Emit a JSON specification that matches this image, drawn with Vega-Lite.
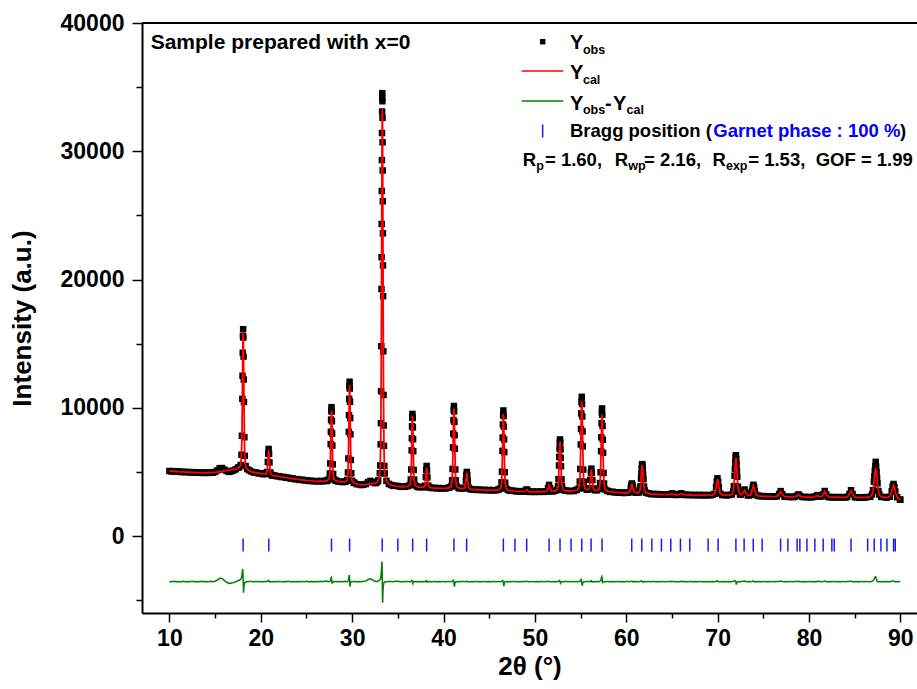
{
"$schema":"https://vega.github.io/schema/vega-lite/v6.json",
"width":775,"height":590,
"autosize":{"type":"none"},
"padding":{"left":142,"top":23,"right":0,"bottom":76},
"background":"white",
"resolve":{"axis":{"x":"independent","y":"independent"}},
"config":{"view":{"stroke":null},"font":"Liberation Sans",
"axis":{"domainColor":"black","domainWidth":2,"tickColor":"black","tickWidth":1.5,"labelColor":"black","labelFont":"Liberation Sans","labelFontWeight":"bold","labelFontSize":23,"titleFont":"Liberation Sans","titleFontWeight":"bold","titleFontSize":26,"titleColor":"black","grid":false},
"axisX":{"labelPadding":5,"titlePadding":3},
"axisY":{"labelPadding":8,"titlePadding":25}},
"datasets":{
"bragg":[{"t":18.07},{"t":20.88},{"t":27.74},{"t":29.72},{"t":33.29},{"t":35.0},{"t":36.62},{"t":38.15},{"t":41.14},{"t":42.53},{"t":46.55},{"t":47.82},{"t":49.1},{"t":51.55},{"t":52.75},{"t":53.96},{"t":55.13},{"t":56.15},{"t":57.35},{"t":60.6},{"t":61.7},{"t":62.8},{"t":63.85},{"t":64.87},{"t":65.93},{"t":66.95},{"t":68.96},{"t":70.05},{"t":72.0},{"t":72.9},{"t":73.9},{"t":74.87},{"t":76.89},{"t":77.69},{"t":78.7},{"t":79.0},{"t":79.77},{"t":80.64},{"t":81.55},{"t":82.5},{"t":82.76},{"t":84.6},{"t":86.42},{"t":87.14},{"t":87.87},{"t":88.53},{"t":89.26},{"t":89.44}],
"prof":[
{"t":10,"c":5060,"o":5075,"d":-3540},{"t":10.25,"c":5050,"o":5030,"d":-3565},{"t":10.5,"c":5040,"o":5060,"d":-3530},{"t":10.75,"c":5030,"o":5010,"d":-3570},{"t":11,"c":5020,"o":5045,"d":-3545},{"t":11.25,"c":5010,"o":4985,"d":-3575},{"t":11.5,"c":5000,"o":5020,"d":-3535},{"t":11.75,"c":4990,"o":4975,"d":-3560},{"t":12,"c":4980,"o":5000,"d":-3540},{"t":12.25,"c":4972,"o":4950,"d":-3570},{"t":12.5,"c":4965,"o":4990,"d":-3530},{"t":12.75,"c":4958,"o":4940,"d":-3565},{"t":13,"c":4950,"o":4970,"d":-3545},{"t":13.25,"c":4945,"o":4930,"d":-3560},{"t":13.5,"c":4940,"o":4965,"d":-3535},{"t":13.75,"c":4935,"o":4915,"d":-3570},{"t":14,"c":4930,"o":4950,"d":-3540},{"t":14.25,"c":4938,"o":4920,"d":-3565},{"t":14.5,"c":4945,"o":4970,"d":-3530},{"t":14.75,"c":4952,"o":4945,"d":-3555},{"t":15,"c":4960,"o":5000,"d":-3520},{"t":15.25,"c":4990,"o":5120,"d":-3430},{"t":15.5,"c":5020,"o":5290,"d":-3290},{"t":15.75,"c":5050,"o":5300,"d":-3310},{"t":16,"c":5080,"o":5180,"d":-3450},{"t":16.25,"c":5110,"o":5080,"d":-3590},{"t":16.5,"c":5140,"o":5000,"d":-3690},{"t":16.75,"c":5170,"o":5040,"d":-3680},{"t":17,"c":5200,"o":5110,"d":-3630},{"t":17.25,"c":5210,"o":5200,"d":-3560},{"t":17.5,"c":5300,"o":5330,"d":-3480},
{"t":17.62,"c":5340,"o":5350,"d":-3450},{"t":17.8,"c":5520,"o":5540,"d":-3380},{"t":17.89,"c":6300,"o":6340,"d":-3250},{"t":17.935,"c":7750,"o":7820,"d":-3050},{"t":17.98,"c":10560,"o":10700,"d":-2800},{"t":18.003,"c":12340,"o":12500,"d":-2650},{"t":18.025,"c":14100,"o":14290,"d":-2570},{"t":18.048,"c":15430,"o":15600,"d":-2900},{"t":18.07,"c":15930,"o":16130,"d":-3400},{"t":18.093,"c":15420,"o":15480,"d":-3900},{"t":18.115,"c":14080,"o":13990,"d":-4420},{"t":18.138,"c":12310,"o":12200,"d":-4200},{"t":18.16,"c":10520,"o":10450,"d":-3900},{"t":18.205,"c":7700,"o":7700,"d":-3700},{"t":18.25,"c":6240,"o":6250,"d":-3620},{"t":18.34,"c":5445,"o":5460,"d":-3580},{"t":18.52,"c":5200,"o":5215,"d":-3560},
{"t":18.75,"c":5100,"o":5120,"d":-3540},{"t":19,"c":5000,"o":5020,"d":-3545},{"t":19.25,"c":4968,"o":4950,"d":-3565},{"t":19.5,"c":4935,"o":4960,"d":-3535},{"t":19.75,"c":4902,"o":4885,"d":-3560},{"t":20,"c":4870,"o":4895,"d":-3540},{"t":20.25,"c":4843,"o":4825,"d":-3565},{"t":20.5,"c":4815,"o":4835,"d":-3540},
{"t":20.545,"c":4850,"o":4860,"d":-3545},{"t":20.68,"c":4985,"o":4995,"d":-3550},{"t":20.77,"c":5735,"o":5780,"d":-3500},{"t":20.815,"c":6365,"o":6420,"d":-3480},{"t":20.86,"c":6695,"o":6790,"d":-3460},{"t":20.905,"c":6360,"o":6400,"d":-3520},{"t":20.95,"c":5725,"o":5740,"d":-3580},{"t":21.04,"c":4955,"o":4960,"d":-3560},{"t":21.175,"c":4785,"o":4770,"d":-3565},
{"t":21.25,"c":4733,"o":4715,"d":-3565},{"t":21.5,"c":4705,"o":4725,"d":-3540},{"t":21.75,"c":4678,"o":4660,"d":-3560},{"t":22,"c":4650,"o":4670,"d":-3535},{"t":22.25,"c":4620,"o":4600,"d":-3565},{"t":22.5,"c":4590,"o":4610,"d":-3540},{"t":22.75,"c":4560,"o":4545,"d":-3560},{"t":23,"c":4530,"o":4555,"d":-3530},{"t":23.25,"c":4502,"o":4480,"d":-3570},{"t":23.5,"c":4475,"o":4495,"d":-3540},{"t":23.75,"c":4448,"o":4430,"d":-3560},{"t":24,"c":4420,"o":4440,"d":-3540},{"t":24.25,"c":4398,"o":4375,"d":-3570},{"t":24.5,"c":4375,"o":4395,"d":-3535},{"t":24.75,"c":4352,"o":4340,"d":-3555},{"t":25,"c":4330,"o":4355,"d":-3530},{"t":25.25,"c":4315,"o":4295,"d":-3570},{"t":25.5,"c":4300,"o":4320,"d":-3540},{"t":25.75,"c":4285,"o":4270,"d":-3560},{"t":26,"c":4270,"o":4290,"d":-3540},{"t":26.25,"c":4272,"o":4255,"d":-3565},{"t":26.5,"c":4275,"o":4300,"d":-3530},{"t":26.75,"c":4278,"o":4260,"d":-3560},{"t":27,"c":4280,"o":4305,"d":-3520},{"t":27.25,"c":4285,"o":4290,"d":-3510},
{"t":27.29,"c":4348,"o":4360,"d":-3540},{"t":27.47,"c":4451,"o":4440,"d":-3560},{"t":27.56,"c":4852,"o":4880,"d":-3520},{"t":27.605,"c":5595,"o":5660,"d":-3480},{"t":27.65,"c":7030,"o":7170,"d":-3400},{"t":27.673,"c":7943,"o":8130,"d":-3350},{"t":27.695,"c":8840,"o":9080,"d":-3250},{"t":27.718,"c":9522,"o":9800,"d":-3220},{"t":27.74,"c":9770,"o":10050,"d":-3300},{"t":27.763,"c":9500,"o":9700,"d":-3500},{"t":27.785,"c":8820,"o":8950,"d":-3640},{"t":27.808,"c":7920,"o":7990,"d":-3700},{"t":27.83,"c":7005,"o":7050,"d":-3620},{"t":27.875,"c":5575,"o":5590,"d":-3580},{"t":27.92,"c":4832,"o":4840,"d":-3555},{"t":28.01,"c":4430,"o":4420,"d":-3565},{"t":28.19,"c":4315,"o":4330,"d":-3545},
{"t":28.25,"c":4300,"o":4315,"d":-3545},{"t":28.5,"c":4255,"o":4240,"d":-3565},{"t":28.75,"c":4233,"o":4250,"d":-3540},{"t":29,"c":4223,"o":4205,"d":-3560},{"t":29.25,"c":4238,"o":4255,"d":-3530},
{"t":29.27,"c":4241,"o":4260,"d":-3540},{"t":29.45,"c":4372,"o":4370,"d":-3560},{"t":29.54,"c":4922,"o":4960,"d":-3520},{"t":29.585,"c":5950,"o":6050,"d":-3470},{"t":29.63,"c":7942,"o":8120,"d":-3300},{"t":29.653,"c":9210,"o":9430,"d":-3150},{"t":29.675,"c":10455,"o":10700,"d":-3050},{"t":29.698,"c":11400,"o":11680,"d":-3100},{"t":29.72,"c":11758,"o":12030,"d":-3350},{"t":29.743,"c":11396,"o":11500,"d":-3700},{"t":29.765,"c":10446,"o":10470,"d":-3950},{"t":29.788,"c":9196,"o":9200,"d":-3800},{"t":29.81,"c":7924,"o":7930,"d":-3650},{"t":29.855,"c":5923,"o":5930,"d":-3580},{"t":29.9,"c":4886,"o":4895,"d":-3555},{"t":29.99,"c":4318,"o":4310,"d":-3565},{"t":30.17,"c":4153,"o":4165,"d":-3540},
{"t":30.25,"c":4122,"o":4140,"d":-3545},{"t":30.5,"c":4065,"o":4045,"d":-3565},{"t":30.75,"c":4012,"o":4030,"d":-3540},{"t":31,"c":3990,"o":3975,"d":-3560},{"t":31.25,"c":3992,"o":4010,"d":-3530},{"t":31.5,"c":4020,"o":4060,"d":-3510},{"t":31.75,"c":4040,"o":4200,"d":-3390},{"t":32,"c":4080,"o":4300,"d":-3330},{"t":32.25,"c":4090,"o":4210,"d":-3430},{"t":32.5,"c":4110,"o":4135,"d":-3525},
{"t":32.58,"c":4125,"o":4140,"d":-3530},{"t":32.75,"c":4220,"o":4210,"d":-3560},{"t":32.85,"c":4328,"o":4340,"d":-3500},{"t":33.03,"c":4880,"o":4900,"d":-3420},{"t":33.075,"c":5455,"o":5500,"d":-3380},{"t":33.12,"c":7022,"o":7150,"d":-3300},{"t":33.143,"c":8607,"o":8800,"d":-3200},{"t":33.165,"c":10985,"o":11290,"d":-3050},{"t":33.188,"c":14360,"o":14800,"d":-2850},{"t":33.21,"c":18645,"o":19260,"d":-2600},{"t":33.221,"c":21022,"o":21740,"d":-2450},{"t":33.233,"c":23517,"o":24330,"d":-2300},{"t":33.244,"c":25983,"o":26900,"d":-2150},{"t":33.255,"c":28301,"o":29310,"d":-2050},{"t":33.266,"c":30326,"o":31420,"d":-2000},{"t":33.278,"c":31941,"o":33100,"d":-2300},{"t":33.289,"c":32968,"o":34170,"d":-2900},{"t":33.3,"c":33320,"o":34530,"d":-3500},{"t":33.311,"c":32958,"o":33900,"d":-4200},{"t":33.323,"c":31931,"o":32600,"d":-4800},{"t":33.334,"c":30316,"o":30700,"d":-5200},{"t":33.345,"c":28291,"o":28500,"d":-5000},{"t":33.356,"c":25973,"o":26100,"d":-4700},{"t":33.368,"c":23507,"o":23600,"d":-4450},{"t":33.379,"c":21012,"o":21100,"d":-4250},{"t":33.39,"c":18635,"o":18700,"d":-4100},{"t":33.413,"c":14350,"o":14400,"d":-3900},{"t":33.435,"c":10975,"o":11000,"d":-3780},{"t":33.458,"c":8597,"o":8620,"d":-3700},{"t":33.48,"c":7012,"o":7030,"d":-3650},{"t":33.525,"c":5445,"o":5460,"d":-3600},{"t":33.57,"c":4870,"o":4880,"d":-3580},{"t":33.75,"c":4288,"o":4300,"d":-3560},{"t":34.02,"c":4050,"o":4065,"d":-3550},
{"t":34.25,"c":3965,"o":3980,"d":-3540},{"t":34.5,"c":3930,"o":3915,"d":-3560},{"t":34.75,"c":3900,"o":3920,"d":-3530},{"t":35,"c":3875,"o":3900,"d":-3520},{"t":35.25,"c":3852,"o":3835,"d":-3565},{"t":35.5,"c":3845,"o":3865,"d":-3540},{"t":35.75,"c":3856,"o":3840,"d":-3560},{"t":36,"c":3867,"o":3885,"d":-3535},
{"t":36.15,"c":3890,"o":3905,"d":-3545},{"t":36.33,"c":3995,"o":3985,"d":-3560},{"t":36.42,"c":4398,"o":4410,"d":-3540},{"t":36.465,"c":5147,"o":5190,"d":-3510},{"t":36.51,"c":6596,"o":6680,"d":-3470},{"t":36.533,"c":7517,"o":7630,"d":-3450},{"t":36.555,"c":8422,"o":8560,"d":-3480},{"t":36.578,"c":9110,"o":9260,"d":-3500},{"t":36.6,"c":9370,"o":9520,"d":-3540},{"t":36.623,"c":9108,"o":9200,"d":-3620},{"t":36.645,"c":8419,"o":8470,"d":-3680},{"t":36.668,"c":7514,"o":7540,"d":-3620},{"t":36.69,"c":6593,"o":6610,"d":-3580},{"t":36.735,"c":5144,"o":5150,"d":-3560},{"t":36.78,"c":4395,"o":4400,"d":-3550},{"t":36.87,"c":3990,"o":3980,"d":-3560},{"t":37.05,"c":3866,"o":3880,"d":-3545},
{"t":37.25,"c":3823,"o":3805,"d":-3565},{"t":37.5,"c":3811,"o":3830,"d":-3540},{"t":37.75,"c":3815,"o":3800,"d":-3560},
{"t":37.835,"c":3821,"o":3830,"d":-3540},{"t":37.97,"c":3935,"o":3925,"d":-3560},{"t":38.06,"c":4565,"o":4600,"d":-3520},{"t":38.105,"c":5091,"o":5160,"d":-3500},{"t":38.15,"c":5365,"o":5465,"d":-3480},{"t":38.195,"c":5091,"o":5120,"d":-3590},{"t":38.24,"c":4565,"o":4570,"d":-3580},{"t":38.33,"c":3929,"o":3935,"d":-3555},{"t":38.465,"c":3797,"o":3790,"d":-3560},
{"t":38.5,"c":3784,"o":3800,"d":-3540},{"t":38.75,"c":3759,"o":3740,"d":-3565},{"t":39,"c":3740,"o":3760,"d":-3535},{"t":39.25,"c":3732,"o":3715,"d":-3560},{"t":39.5,"c":3725,"o":3745,"d":-3540},{"t":39.75,"c":3718,"o":3700,"d":-3565},{"t":40,"c":3710,"o":3730,"d":-3535},{"t":40.25,"c":3727,"o":3712,"d":-3560},{"t":40.5,"c":3743,"o":3760,"d":-3540},
{"t":40.64,"c":3767,"o":3780,"d":-3545},{"t":40.84,"c":3887,"o":3875,"d":-3560},{"t":40.94,"c":4344,"o":4360,"d":-3530},{"t":40.99,"c":5188,"o":5230,"d":-3500},{"t":41.04,"c":6815,"o":6910,"d":-3480},{"t":41.065,"c":7853,"o":7990,"d":-3450},{"t":41.09,"c":8871,"o":9040,"d":-3480},{"t":41.115,"c":9646,"o":9840,"d":-3520},{"t":41.14,"c":9940,"o":10140,"d":-3600},{"t":41.165,"c":9646,"o":9720,"d":-3780},{"t":41.19,"c":8871,"o":8900,"d":-3950},{"t":41.215,"c":7853,"o":7850,"d":-3850},{"t":41.24,"c":6815,"o":6800,"d":-3700},{"t":41.29,"c":5184,"o":5190,"d":-3600},{"t":41.34,"c":4340,"o":4345,"d":-3565},{"t":41.44,"c":3884,"o":3875,"d":-3560},{"t":41.64,"c":3752,"o":3765,"d":-3545},
{"t":41.75,"c":3735,"o":3715,"d":-3565},{"t":42,"c":3697,"o":3715,"d":-3540},
{"t":42.2,"c":3700,"o":3710,"d":-3545},{"t":42.35,"c":3787,"o":3780,"d":-3560},{"t":42.45,"c":4302,"o":4320,"d":-3535},{"t":42.5,"c":4729,"o":4770,"d":-3520},{"t":42.55,"c":4950,"o":5000,"d":-3510},{"t":42.6,"c":4726,"o":4740,"d":-3570},{"t":42.65,"c":4298,"o":4300,"d":-3565},{"t":42.75,"c":3780,"o":3785,"d":-3555},{"t":42.9,"c":3670,"o":3660,"d":-3560},
{"t":43,"c":3648,"o":3660,"d":-3545},{"t":43.25,"c":3622,"o":3605,"d":-3565},{"t":43.5,"c":3615,"o":3635,"d":-3535},{"t":43.75,"c":3608,"o":3590,"d":-3560},{"t":44,"c":3600,"o":3620,"d":-3540},{"t":44.25,"c":3594,"o":3575,"d":-3565},{"t":44.5,"c":3588,"o":3605,"d":-3535},{"t":44.75,"c":3581,"o":3565,"d":-3560},{"t":45,"c":3575,"o":3595,"d":-3540},{"t":45.25,"c":3569,"o":3550,"d":-3565},{"t":45.5,"c":3563,"o":3580,"d":-3535},{"t":45.75,"c":3584,"o":3568,"d":-3560},{"t":46,"c":3608,"o":3625,"d":-3540},
{"t":46.05,"c":3618,"o":3630,"d":-3545},{"t":46.25,"c":3730,"o":3720,"d":-3560},{"t":46.35,"c":4168,"o":4185,"d":-3535},{"t":46.4,"c":4978,"o":5020,"d":-3510},{"t":46.45,"c":6540,"o":6640,"d":-3490},{"t":46.475,"c":7536,"o":7680,"d":-3470},{"t":46.5,"c":8514,"o":8700,"d":-3500},{"t":46.525,"c":9258,"o":9470,"d":-3560},{"t":46.55,"c":9540,"o":9790,"d":-3620},{"t":46.575,"c":9256,"o":9350,"d":-3800},{"t":46.6,"c":8510,"o":8530,"d":-3900},{"t":46.625,"c":7532,"o":7530,"d":-3800},{"t":46.65,"c":6536,"o":6540,"d":-3680},{"t":46.7,"c":4970,"o":4975,"d":-3600},{"t":46.75,"c":4160,"o":4165,"d":-3565},{"t":46.85,"c":3716,"o":3705,"d":-3560},{"t":47.05,"c":3592,"o":3605,"d":-3545},
{"t":47.25,"c":3548,"o":3530,"d":-3565},{"t":47.5,"c":3525,"o":3545,"d":-3540},{"t":47.75,"c":3500,"o":3515,"d":-3545},{"t":48,"c":3490,"o":3475,"d":-3560},{"t":48.25,"c":3485,"o":3505,"d":-3535},{"t":48.5,"c":3480,"o":3465,"d":-3560},{"t":48.75,"c":3470,"o":3490,"d":-3540},
{"t":48.85,"c":3474,"o":3485,"d":-3540},{"t":49,"c":3540,"o":3555,"d":-3545},{"t":49.1,"c":3612,"o":3635,"d":-3530},{"t":49.2,"c":3535,"o":3545,"d":-3550},{"t":49.35,"c":3463,"o":3455,"d":-3560},
{"t":49.5,"c":3455,"o":3440,"d":-3565},{"t":49.75,"c":3452,"o":3470,"d":-3535},{"t":50,"c":3450,"o":3435,"d":-3560},{"t":50.25,"c":3452,"o":3470,"d":-3540},{"t":50.5,"c":3455,"o":3440,"d":-3565},{"t":50.75,"c":3458,"o":3475,"d":-3535},{"t":51,"c":3460,"o":3445,"d":-3560},{"t":51.25,"c":3462,"o":3480,"d":-3540},
{"t":51.275,"c":3490,"o":3500,"d":-3545},{"t":51.44,"c":3715,"o":3730,"d":-3540},{"t":51.55,"c":3965,"o":3990,"d":-3530},{"t":51.66,"c":3716,"o":3725,"d":-3555},{"t":51.825,"c":3492,"o":3485,"d":-3560},
{"t":52,"c":3504,"o":3490,"d":-3560},
{"t":52.2,"c":3520,"o":3530,"d":-3545},{"t":52.42,"c":3596,"o":3590,"d":-3560},{"t":52.53,"c":3884,"o":3895,"d":-3540},{"t":52.585,"c":4410,"o":4440,"d":-3520},{"t":52.64,"c":5428,"o":5500,"d":-3500},{"t":52.668,"c":6075,"o":6175,"d":-3480},{"t":52.695,"c":6711,"o":6835,"d":-3470},{"t":52.723,"c":7195,"o":7335,"d":-3500},{"t":52.75,"c":7380,"o":7530,"d":-3540},{"t":52.778,"c":7198,"o":7300,"d":-3620},{"t":52.805,"c":6714,"o":6750,"d":-3680},{"t":52.833,"c":6078,"o":6090,"d":-3640},{"t":52.86,"c":5432,"o":5440,"d":-3590},{"t":52.915,"c":4416,"o":4420,"d":-3565},{"t":52.97,"c":3892,"o":3900,"d":-3550},{"t":53.08,"c":3610,"o":3600,"d":-3560},{"t":53.3,"c":3535,"o":3545,"d":-3545},
{"t":53.5,"c":3517,"o":3535,"d":-3540},{"t":53.75,"c":3510,"o":3495,"d":-3560},{"t":54,"c":3500,"o":3520,"d":-3535},{"t":54.25,"c":3534,"o":3515,"d":-3565},{"t":54.5,"c":3566,"o":3585,"d":-3540},
{"t":54.58,"c":3586,"o":3600,"d":-3540},{"t":54.8,"c":3722,"o":3710,"d":-3560},{"t":54.91,"c":4233,"o":4250,"d":-3530},{"t":54.965,"c":5178,"o":5230,"d":-3480},{"t":55.02,"c":7005,"o":7140,"d":-3420},{"t":55.048,"c":8167,"o":8350,"d":-3380},{"t":55.075,"c":9308,"o":9560,"d":-3420},{"t":55.103,"c":10176,"o":10470,"d":-3520},{"t":55.13,"c":10505,"o":10855,"d":-3600},{"t":55.158,"c":10176,"o":10290,"d":-3800},{"t":55.185,"c":9308,"o":9320,"d":-3870},{"t":55.213,"c":8167,"o":8150,"d":-3760},{"t":55.24,"c":7005,"o":6990,"d":-3650},{"t":55.295,"c":5178,"o":5180,"d":-3590},{"t":55.35,"c":4233,"o":4240,"d":-3560},{"t":55.46,"c":3722,"o":3715,"d":-3560},{"t":55.68,"c":3610,"o":3620,"d":-3545},
{"t":55.795,"c":3605,"o":3615,"d":-3545},{"t":55.96,"c":3719,"o":3725,"d":-3555},{"t":56.07,"c":4350,"o":4385,"d":-3530},{"t":56.125,"c":4893,"o":4960,"d":-3500},{"t":56.18,"c":5175,"o":5255,"d":-3490},{"t":56.235,"c":4895,"o":4930,"d":-3570},{"t":56.29,"c":4352,"o":4360,"d":-3565},{"t":56.4,"c":3706,"o":3715,"d":-3550},{"t":56.565,"c":3583,"o":3575,"d":-3560},
{"t":56.8,"c":3560,"o":3570,"d":-3545},{"t":57.02,"c":3676,"o":3670,"d":-3555},{"t":57.13,"c":4114,"o":4130,"d":-3520},{"t":57.185,"c":4925,"o":4970,"d":-3480},{"t":57.24,"c":6488,"o":6620,"d":-3400},{"t":57.268,"c":7484,"o":7700,"d":-3300},{"t":57.295,"c":8462,"o":8800,"d":-3220},{"t":57.323,"c":9198,"o":9620,"d":-3170},{"t":57.35,"c":9480,"o":9950,"d":-3250},{"t":57.378,"c":9198,"o":9450,"d":-3450},{"t":57.405,"c":8462,"o":8580,"d":-3580},{"t":57.433,"c":7484,"o":7510,"d":-3620},{"t":57.46,"c":6488,"o":6490,"d":-3590},{"t":57.515,"c":4910,"o":4915,"d":-3565},{"t":57.57,"c":4090,"o":4100,"d":-3555},{"t":57.68,"c":3650,"o":3640,"d":-3560},{"t":57.9,"c":3520,"o":3535,"d":-3545},
{"t":58,"c":3491,"o":3505,"d":-3545},{"t":58.25,"c":3457,"o":3440,"d":-3565},{"t":58.5,"c":3436,"o":3455,"d":-3540},{"t":58.75,"c":3410,"o":3395,"d":-3560},{"t":59,"c":3400,"o":3420,"d":-3535},{"t":59.25,"c":3390,"o":3375,"d":-3565},{"t":59.5,"c":3380,"o":3400,"d":-3540},{"t":59.75,"c":3370,"o":3355,"d":-3560},{"t":60,"c":3370,"o":3390,"d":-3540},
{"t":60.165,"c":3372,"o":3385,"d":-3545},{"t":60.36,"c":3425,"o":3415,"d":-3560},{"t":60.49,"c":3702,"o":3720,"d":-3535},{"t":60.555,"c":3932,"o":3970,"d":-3520},{"t":60.62,"c":4050,"o":4100,"d":-3510},{"t":60.685,"c":3930,"o":3950,"d":-3560},{"t":60.75,"c":3700,"o":3705,"d":-3565},{"t":60.88,"c":3433,"o":3440,"d":-3550},{"t":61.075,"c":3385,"o":3380,"d":-3555},
{"t":61.1,"c":3375,"o":3385,"d":-3545},{"t":61.36,"c":3405,"o":3395,"d":-3560},{"t":61.49,"c":3565,"o":3575,"d":-3540},{"t":61.555,"c":3860,"o":3880,"d":-3520},{"t":61.62,"c":4430,"o":4475,"d":-3500},{"t":61.653,"c":4795,"o":4850,"d":-3490},{"t":61.685,"c":5154,"o":5220,"d":-3500},{"t":61.718,"c":5427,"o":5505,"d":-3520},{"t":61.75,"c":5530,"o":5610,"d":-3540},{"t":61.783,"c":5427,"o":5470,"d":-3590},{"t":61.815,"c":5154,"o":5170,"d":-3600},{"t":61.848,"c":4795,"o":4800,"d":-3580},{"t":61.88,"c":4430,"o":4430,"d":-3565},{"t":61.945,"c":3850,"o":3855,"d":-3555},{"t":62.01,"c":3555,"o":3560,"d":-3550},{"t":62.14,"c":3395,"o":3385,"d":-3560},{"t":62.4,"c":3320,"o":3335,"d":-3545},
{"t":62.5,"c":3309,"o":3325,"d":-3545},{"t":62.75,"c":3278,"o":3260,"d":-3565},{"t":63,"c":3270,"o":3290,"d":-3535},{"t":63.25,"c":3262,"o":3245,"d":-3560},{"t":63.5,"c":3255,"o":3275,"d":-3540},{"t":63.75,"c":3248,"o":3230,"d":-3565},{"t":64,"c":3240,"o":3260,"d":-3535},{"t":64.25,"c":3236,"o":3220,"d":-3560},{"t":64.5,"c":3232,"o":3250,"d":-3540},
{"t":64.675,"c":3232,"o":3245,"d":-3540},{"t":64.87,"c":3268,"o":3255,"d":-3560},{"t":65,"c":3312,"o":3330,"d":-3535},{"t":65.13,"c":3267,"o":3280,"d":-3545},{"t":65.325,"c":3223,"o":3210,"d":-3560},{"t":65.5,"c":3220,"o":3205,"d":-3560},
{"t":65.675,"c":3217,"o":3230,"d":-3540},{"t":65.87,"c":3265,"o":3250,"d":-3560},{"t":66,"c":3320,"o":3335,"d":-3535},{"t":66.13,"c":3265,"o":3275,"d":-3545},{"t":66.325,"c":3215,"o":3200,"d":-3560},
{"t":66.5,"c":3208,"o":3225,"d":-3540},{"t":66.75,"c":3205,"o":3190,"d":-3560},{"t":67,"c":3200,"o":3220,"d":-3535},{"t":67.25,"c":3198,"o":3180,"d":-3565},{"t":67.5,"c":3195,"o":3215,"d":-3540},{"t":67.75,"c":3192,"o":3175,"d":-3560},{"t":68,"c":3190,"o":3210,"d":-3535},{"t":68.25,"c":3188,"o":3170,"d":-3565},{"t":68.5,"c":3186,"o":3205,"d":-3540},{"t":68.75,"c":3184,"o":3168,"d":-3560},{"t":69,"c":3182,"o":3200,"d":-3535},{"t":69.25,"c":3196,"o":3180,"d":-3560},
{"t":69.455,"c":3210,"o":3220,"d":-3545},{"t":69.68,"c":3311,"o":3300,"d":-3560},{"t":69.83,"c":3806,"o":3830,"d":-3530},{"t":69.905,"c":4216,"o":4270,"d":-3510},{"t":69.98,"c":4430,"o":4500,"d":-3500},{"t":70.055,"c":4214,"o":4240,"d":-3580},{"t":70.13,"c":3804,"o":3805,"d":-3565},{"t":70.28,"c":3308,"o":3315,"d":-3555},{"t":70.505,"c":3205,"o":3195,"d":-3560},
{"t":70.75,"c":3187,"o":3205,"d":-3540},{"t":71,"c":3188,"o":3170,"d":-3565},
{"t":71.25,"c":3190,"o":3200,"d":-3545},{"t":71.55,"c":3245,"o":3235,"d":-3555},{"t":71.7,"c":3460,"o":3475,"d":-3535},{"t":71.775,"c":3858,"o":3890,"d":-3500},{"t":71.85,"c":4626,"o":4700,"d":-3470},{"t":71.888,"c":5117,"o":5230,"d":-3480},{"t":71.925,"c":5597,"o":5740,"d":-3500},{"t":71.963,"c":5962,"o":6150,"d":-3540},{"t":72,"c":6100,"o":6300,"d":-3620},{"t":72.038,"c":5962,"o":6050,"d":-3790},{"t":72.075,"c":5596,"o":5620,"d":-3700},{"t":72.113,"c":5115,"o":5110,"d":-3620},{"t":72.15,"c":4624,"o":4620,"d":-3580},{"t":72.225,"c":3854,"o":3860,"d":-3560},{"t":72.3,"c":3455,"o":3465,"d":-3550},{"t":72.45,"c":3250,"o":3240,"d":-3560},
{"t":72.575,"c":3223,"o":3230,"d":-3545},{"t":72.8,"c":3375,"o":3400,"d":-3530},{"t":72.95,"c":3567,"o":3630,"d":-3500},{"t":73.1,"c":3356,"o":3380,"d":-3545},{"t":73.325,"c":3185,"o":3175,"d":-3560},
{"t":73.395,"c":3160,"o":3170,"d":-3545},{"t":73.62,"c":3215,"o":3205,"d":-3560},{"t":73.77,"c":3527,"o":3545,"d":-3535},{"t":73.845,"c":3790,"o":3835,"d":-3515},{"t":73.92,"c":3925,"o":3995,"d":-3500},{"t":73.995,"c":3786,"o":3810,"d":-3570},{"t":74.07,"c":3523,"o":3525,"d":-3560},{"t":74.22,"c":3203,"o":3210,"d":-3550},{"t":74.445,"c":3135,"o":3125,"d":-3560},
{"t":74.5,"c":3130,"o":3145,"d":-3545},{"t":74.75,"c":3110,"o":3095,"d":-3560},{"t":75,"c":3100,"o":3120,"d":-3535},{"t":75.25,"c":3092,"o":3075,"d":-3565},{"t":75.5,"c":3090,"o":3105,"d":-3540},{"t":75.75,"c":3085,"o":3070,"d":-3560},{"t":76,"c":3080,"o":3100,"d":-3535},{"t":76.25,"c":3076,"o":3060,"d":-3565},
{"t":76.475,"c":3090,"o":3100,"d":-3545},{"t":76.73,"c":3260,"o":3275,"d":-3540},{"t":76.9,"c":3448,"o":3505,"d":-3510},{"t":77.07,"c":3256,"o":3265,"d":-3550},{"t":77.325,"c":3082,"o":3070,"d":-3560},
{"t":77.5,"c":3060,"o":3075,"d":-3540},{"t":77.75,"c":3055,"o":3040,"d":-3560},{"t":78,"c":3050,"o":3070,"d":-3535},{"t":78.25,"c":3048,"o":3030,"d":-3565},
{"t":78.425,"c":3051,"o":3060,"d":-3545},{"t":78.68,"c":3132,"o":3140,"d":-3545},{"t":78.85,"c":3222,"o":3250,"d":-3525},{"t":79.02,"c":3131,"o":3135,"d":-3555},{"t":79.275,"c":3049,"o":3040,"d":-3560},
{"t":79.5,"c":3038,"o":3055,"d":-3540},{"t":79.75,"c":3035,"o":3020,"d":-3560},{"t":80,"c":3030,"o":3050,"d":-3535},{"t":80.25,"c":3030,"o":3015,"d":-3565},
{"t":80.475,"c":3037,"o":3050,"d":-3545},{"t":80.73,"c":3100,"o":3090,"d":-3560},{"t":80.9,"c":3170,"o":3190,"d":-3535},{"t":81.07,"c":3105,"o":3110,"d":-3550},{"t":81.2,"c":3065,"o":3075,"d":-3545},
{"t":81.42,"c":3105,"o":3100,"d":-3555},{"t":81.55,"c":3245,"o":3260,"d":-3540},{"t":81.72,"c":3460,"o":3510,"d":-3510},{"t":81.89,"c":3245,"o":3250,"d":-3555},{"t":82.145,"c":3050,"o":3040,"d":-3560},
{"t":82.25,"c":3028,"o":3045,"d":-3540},{"t":82.5,"c":3027,"o":3010,"d":-3560},{"t":82.75,"c":3026,"o":3045,"d":-3535},{"t":83,"c":3025,"o":3008,"d":-3565},{"t":83.25,"c":3024,"o":3040,"d":-3540},{"t":83.5,"c":3022,"o":3005,"d":-3560},{"t":83.75,"c":3021,"o":3038,"d":-3535},{"t":84,"c":3020,"o":3005,"d":-3565},
{"t":84.175,"c":3043,"o":3055,"d":-3545},{"t":84.43,"c":3268,"o":3280,"d":-3540},{"t":84.6,"c":3518,"o":3575,"d":-3510},{"t":84.77,"c":3268,"o":3275,"d":-3555},{"t":85.025,"c":3040,"o":3030,"d":-3560},
{"t":85.25,"c":3008,"o":3025,"d":-3540},{"t":85.5,"c":3005,"o":2990,"d":-3560},{"t":85.75,"c":3002,"o":3020,"d":-3535},{"t":86,"c":3015,"o":3000,"d":-3565},{"t":86.25,"c":3020,"o":3035,"d":-3540},
{"t":86.3,"c":3022,"o":3030,"d":-3545},{"t":86.7,"c":3065,"o":3060,"d":-3555},{"t":86.9,"c":3225,"o":3250,"d":-3530},{"t":87,"c":3520,"o":3580,"d":-3480},{"t":87.1,"c":4095,"o":4240,"d":-3400},{"t":87.15,"c":4460,"o":4660,"d":-3330},{"t":87.2,"c":4820,"o":5100,"d":-3250},{"t":87.25,"c":5090,"o":5450,"d":-3180},{"t":87.3,"c":5195,"o":5785,"d":-3170},{"t":87.35,"c":5090,"o":5400,"d":-3280},{"t":87.4,"c":4818,"o":4980,"d":-3420},{"t":87.45,"c":4458,"o":4520,"d":-3520},{"t":87.5,"c":4093,"o":4110,"d":-3560},{"t":87.6,"c":3518,"o":3520,"d":-3565},{"t":87.7,"c":3220,"o":3230,"d":-3555},{"t":87.9,"c":3060,"o":3050,"d":-3560},{"t":88.3,"c":3020,"o":3035,"d":-3545},
{"t":88.5,"c":3018,"o":3005,"d":-3560},
{"t":88.55,"c":3020,"o":3030,"d":-3545},{"t":88.85,"c":3079,"o":3070,"d":-3555},{"t":89.05,"c":3468,"o":3490,"d":-3530},{"t":89.15,"c":3793,"o":3850,"d":-3510},{"t":89.25,"c":3960,"o":4060,"d":-3500},{"t":89.35,"c":3785,"o":3820,"d":-3560},{"t":89.45,"c":3452,"o":3460,"d":-3565},{"t":89.65,"c":3024,"o":3030,"d":-3555},{"t":89.95,"c":2843,"o":2850,"d":-3550},{"t":90,"c":2820,"o":2830,"d":-3550}
]},
"layer":[
{"data":{"values":[{}]},"mark":{"type":"rule","strokeWidth":2,"color":"black"},
 "encoding":{"y":{"datum":40000,"type":"quantitative","scale":{"domain":[-6000,40000],"nice":false,"zero":false},"axis":null}}},
{"data":{"name":"prof"},"mark":{"type":"square","size":42,"color":"black","filled":true,"opacity":1},
 "encoding":{
  "x":{"field":"t","type":"quantitative","scale":{"domain":[7,91.82],"nice":false,"zero":false},
   "axis":{"orient":"bottom","values":[10,20,30,40,50,60,70,80,90],"tickSize":9,"title":"2θ (°)","labelFlush":false,"labelOverlap":false}},
  "y":{"field":"o","type":"quantitative","scale":{"domain":[-6000,40000],"nice":false,"zero":false},
   "axis":{"orient":"left","values":[0,10000,20000,30000,40000],"format":"d","tickSize":10,"title":"Intensity (a.u.)","labelOverlap":false,"labelFlush":false}}}},
{"data":{"name":"prof"},"mark":{"type":"line","color":"#ff0000","strokeWidth":1.8},
 "encoding":{"x":{"field":"t","type":"quantitative","scale":{"domain":[7,91.82],"nice":false,"zero":false},
   "axis":{"orient":"bottom","values":[15,25,35,45,55,65,75,85],"tickSize":5,"labels":false,"domain":false,"title":null}},
  "y":{"field":"c","type":"quantitative","scale":{"domain":[-6000,40000],"nice":false,"zero":false},
   "axis":{"orient":"left","values":[-5000,5000,15000,25000,35000],"tickSize":6,"labels":false,"domain":false,"title":null}}}},
{"data":{"name":"prof"},"mark":{"type":"line","color":"#008000","strokeWidth":1.5},
 "encoding":{"x":{"field":"t","type":"quantitative","scale":{"domain":[7,91.82],"nice":false,"zero":false},"axis":null},
  "y":{"field":"d","type":"quantitative","scale":{"domain":[-6000,40000],"nice":false,"zero":false},"axis":null}}},
{"data":{"name":"bragg"},"mark":{"type":"tick","orient":"vertical","color":"#0000ff","size":13,"thickness":1.5,"opacity":0.9},
 "encoding":{"x":{"field":"t","type":"quantitative","scale":{"domain":[7,91.82],"nice":false,"zero":false},"axis":null},
  "y":{"datum":-700,"type":"quantitative","scale":{"domain":[-6000,40000],"nice":false,"zero":false},"axis":null}}},
{"data":{"values":[{}]},"mark":{"type":"square","size":30,"color":"black","filled":true,"opacity":1},
 "encoding":{"x":{"datum":50.85,"type":"quantitative","scale":{"domain":[7,91.82],"nice":false,"zero":false},"axis":null},
  "y":{"datum":38542,"type":"quantitative","scale":{"domain":[-6000,40000],"nice":false,"zero":false},"axis":null}}},
{"data":{"values":[{}]},"mark":{"type":"rule","color":"#ff0000","strokeWidth":1.5},
 "encoding":{"x":{"datum":48.55,"type":"quantitative","scale":{"domain":[7,91.82],"nice":false,"zero":false},"axis":null},"x2":{"datum":53.11},
  "y":{"datum":36258,"type":"quantitative","scale":{"domain":[-6000,40000],"nice":false,"zero":false},"axis":null}}},
{"data":{"values":[{}]},"mark":{"type":"rule","color":"#008000","strokeWidth":1.5},
 "encoding":{"x":{"datum":48.55,"type":"quantitative","scale":{"domain":[7,91.82],"nice":false,"zero":false},"axis":null},"x2":{"datum":53.11},
  "y":{"datum":33919,"type":"quantitative","scale":{"domain":[-6000,40000],"nice":false,"zero":false},"axis":null}}},
{"data":{"values":[{}]},"mark":{"type":"tick","orient":"vertical","color":"#0000ff","size":13,"thickness":1.5,"opacity":0.9},
 "encoding":{"x":{"datum":50.85,"type":"quantitative","scale":{"domain":[7,91.82],"nice":false,"zero":false},"axis":null},
  "y":{"datum":31580,"type":"quantitative","scale":{"domain":[-6000,40000],"nice":false,"zero":false},"axis":null}}},
{"data":{"values":[{}]},"mark":{"type":"text","align":"left","baseline":"alphabetic","font":"Liberation Sans","fontWeight":"bold","fontSize":21,"color":"black","text":"Sample prepared with x=0"},
 "encoding":{"x":{"datum":7.95,"type":"quantitative","scale":{"domain":[7,91.82],"nice":false,"zero":false},"axis":null},"y":{"datum":37973,"type":"quantitative","scale":{"domain":[-6000,40000],"nice":false,"zero":false},"axis":null}}},
{"data":{"values":[{}]},"mark":{"type":"text","align":"left","baseline":"alphabetic","font":"Liberation Sans","fontWeight":"bold","fontSize":20,"color":"black","text":"Y"},
 "encoding":{"x":{"datum":53.84,"type":"quantitative","scale":{"domain":[7,91.82],"nice":false,"zero":false},"axis":null},"y":{"datum":37973,"type":"quantitative","scale":{"domain":[-6000,40000],"nice":false,"zero":false},"axis":null}}},
{"data":{"values":[{}]},"mark":{"type":"text","align":"left","baseline":"alphabetic","font":"Liberation Sans","fontWeight":"bold","fontSize":12.5,"color":"black","text":"obs"},
 "encoding":{"x":{"datum":55.26,"type":"quantitative","scale":{"domain":[7,91.82],"nice":false,"zero":false},"axis":null},"y":{"datum":37622,"type":"quantitative","scale":{"domain":[-6000,40000],"nice":false,"zero":false},"axis":null}}},
{"data":{"values":[{}]},"mark":{"type":"text","align":"left","baseline":"alphabetic","font":"Liberation Sans","fontWeight":"bold","fontSize":20,"color":"black","text":"Y"},
 "encoding":{"x":{"datum":53.84,"type":"quantitative","scale":{"domain":[7,91.82],"nice":false,"zero":false},"axis":null},"y":{"datum":35610,"type":"quantitative","scale":{"domain":[-6000,40000],"nice":false,"zero":false},"axis":null}}},
{"data":{"values":[{}]},"mark":{"type":"text","align":"left","baseline":"alphabetic","font":"Liberation Sans","fontWeight":"bold","fontSize":12.5,"color":"black","text":"cal"},
 "encoding":{"x":{"datum":55.26,"type":"quantitative","scale":{"domain":[7,91.82],"nice":false,"zero":false},"axis":null},"y":{"datum":35283,"type":"quantitative","scale":{"domain":[-6000,40000],"nice":false,"zero":false},"axis":null}}},
{"data":{"values":[{}]},"mark":{"type":"text","align":"left","baseline":"alphabetic","font":"Liberation Sans","fontWeight":"bold","fontSize":20,"color":"black","text":"Y"},
 "encoding":{"x":{"datum":53.84,"type":"quantitative","scale":{"domain":[7,91.82],"nice":false,"zero":false},"axis":null},"y":{"datum":33217,"type":"quantitative","scale":{"domain":[-6000,40000],"nice":false,"zero":false},"axis":null}}},
{"data":{"values":[{}]},"mark":{"type":"text","align":"left","baseline":"alphabetic","font":"Liberation Sans","fontWeight":"bold","fontSize":12.5,"color":"black","text":"obs"},
 "encoding":{"x":{"datum":55.26,"type":"quantitative","scale":{"domain":[7,91.82],"nice":false,"zero":false},"axis":null},"y":{"datum":32905,"type":"quantitative","scale":{"domain":[-6000,40000],"nice":false,"zero":false},"axis":null}}},
{"data":{"values":[{}]},"mark":{"type":"text","align":"left","baseline":"alphabetic","font":"Liberation Sans","fontWeight":"bold","fontSize":20,"color":"black","text":"-"},
 "encoding":{"x":{"datum":57.67,"type":"quantitative","scale":{"domain":[7,91.82],"nice":false,"zero":false},"axis":null},"y":{"datum":33217,"type":"quantitative","scale":{"domain":[-6000,40000],"nice":false,"zero":false},"axis":null}}},
{"data":{"values":[{}]},"mark":{"type":"text","align":"left","baseline":"alphabetic","font":"Liberation Sans","fontWeight":"bold","fontSize":20,"color":"black","text":"Y"},
 "encoding":{"x":{"datum":58.55,"type":"quantitative","scale":{"domain":[7,91.82],"nice":false,"zero":false},"axis":null},"y":{"datum":33217,"type":"quantitative","scale":{"domain":[-6000,40000],"nice":false,"zero":false},"axis":null}}},
{"data":{"values":[{}]},"mark":{"type":"text","align":"left","baseline":"alphabetic","font":"Liberation Sans","fontWeight":"bold","fontSize":12.5,"color":"black","text":"cal"},
 "encoding":{"x":{"datum":60.03,"type":"quantitative","scale":{"domain":[7,91.82],"nice":false,"zero":false},"axis":null},"y":{"datum":32905,"type":"quantitative","scale":{"domain":[-6000,40000],"nice":false,"zero":false},"axis":null}}},
{"data":{"values":[{}]},"mark":{"type":"text","align":"left","baseline":"alphabetic","font":"Liberation Sans","fontWeight":"bold","fontSize":18.5,"color":"black","text":"Bragg position ("},
 "encoding":{"x":{"datum":53.84,"type":"quantitative","scale":{"domain":[7,91.82],"nice":false,"zero":false},"axis":null},"y":{"datum":31073,"type":"quantitative","scale":{"domain":[-6000,40000],"nice":false,"zero":false},"axis":null}}},
{"data":{"values":[{}]},"mark":{"type":"text","align":"left","baseline":"alphabetic","font":"Liberation Sans","fontWeight":"bold","fontSize":18.5,"color":"#0000ff","text":"Garnet phase : 100 %"},
 "encoding":{"x":{"datum":69.52,"type":"quantitative","scale":{"domain":[7,91.82],"nice":false,"zero":false},"axis":null},"y":{"datum":31073,"type":"quantitative","scale":{"domain":[-6000,40000],"nice":false,"zero":false},"axis":null}}},
{"data":{"values":[{}]},"mark":{"type":"text","align":"left","baseline":"alphabetic","font":"Liberation Sans","fontWeight":"bold","fontSize":18.5,"color":"black","text":")"},
 "encoding":{"x":{"datum":89.96,"type":"quantitative","scale":{"domain":[7,91.82],"nice":false,"zero":false},"axis":null},"y":{"datum":31073,"type":"quantitative","scale":{"domain":[-6000,40000],"nice":false,"zero":false},"axis":null}}},
{"data":{"values":[{}]},"mark":{"type":"text","align":"left","baseline":"alphabetic","font":"Liberation Sans","fontWeight":"bold","fontSize":18.5,"color":"black","text":"R"},
 "encoding":{"x":{"datum":48.66,"type":"quantitative","scale":{"domain":[7,91.82],"nice":false,"zero":false},"axis":null},"y":{"datum":28874,"type":"quantitative","scale":{"domain":[-6000,40000],"nice":false,"zero":false},"axis":null}}},
{"data":{"values":[{}]},"mark":{"type":"text","align":"left","baseline":"alphabetic","font":"Liberation Sans","fontWeight":"bold","fontSize":12.5,"color":"black","text":"p"},
 "encoding":{"x":{"datum":50.15,"type":"quantitative","scale":{"domain":[7,91.82],"nice":false,"zero":false},"axis":null},"y":{"datum":28539,"type":"quantitative","scale":{"domain":[-6000,40000],"nice":false,"zero":false},"axis":null}}},
{"data":{"values":[{}]},"mark":{"type":"text","align":"left","baseline":"alphabetic","font":"Liberation Sans","fontWeight":"bold","fontSize":18.5,"color":"black","text":"= 1.60,"},
 "encoding":{"x":{"datum":51.1,"type":"quantitative","scale":{"domain":[7,91.82],"nice":false,"zero":false},"axis":null},"y":{"datum":28874,"type":"quantitative","scale":{"domain":[-6000,40000],"nice":false,"zero":false},"axis":null}}},
{"data":{"values":[{}]},"mark":{"type":"text","align":"left","baseline":"alphabetic","font":"Liberation Sans","fontWeight":"bold","fontSize":18.5,"color":"black","text":"R"},
 "encoding":{"x":{"datum":58.75,"type":"quantitative","scale":{"domain":[7,91.82],"nice":false,"zero":false},"axis":null},"y":{"datum":28874,"type":"quantitative","scale":{"domain":[-6000,40000],"nice":false,"zero":false},"axis":null}}},
{"data":{"values":[{}]},"mark":{"type":"text","align":"left","baseline":"alphabetic","font":"Liberation Sans","fontWeight":"bold","fontSize":12.5,"color":"black","text":"wp"},
 "encoding":{"x":{"datum":60.22,"type":"quantitative","scale":{"domain":[7,91.82],"nice":false,"zero":false},"axis":null},"y":{"datum":28539,"type":"quantitative","scale":{"domain":[-6000,40000],"nice":false,"zero":false},"axis":null}}},
{"data":{"values":[{}]},"mark":{"type":"text","align":"left","baseline":"alphabetic","font":"Liberation Sans","fontWeight":"bold","fontSize":18.5,"color":"black","text":"= 2.16,"},
 "encoding":{"x":{"datum":61.94,"type":"quantitative","scale":{"domain":[7,91.82],"nice":false,"zero":false},"axis":null},"y":{"datum":28874,"type":"quantitative","scale":{"domain":[-6000,40000],"nice":false,"zero":false},"axis":null}}},
{"data":{"values":[{}]},"mark":{"type":"text","align":"left","baseline":"alphabetic","font":"Liberation Sans","fontWeight":"bold","fontSize":18.5,"color":"black","text":"R"},
 "encoding":{"x":{"datum":69.45,"type":"quantitative","scale":{"domain":[7,91.82],"nice":false,"zero":false},"axis":null},"y":{"datum":28874,"type":"quantitative","scale":{"domain":[-6000,40000],"nice":false,"zero":false},"axis":null}}},
{"data":{"values":[{}]},"mark":{"type":"text","align":"left","baseline":"alphabetic","font":"Liberation Sans","fontWeight":"bold","fontSize":12.5,"color":"black","text":"exp"},
 "encoding":{"x":{"datum":70.91,"type":"quantitative","scale":{"domain":[7,91.82],"nice":false,"zero":false},"axis":null},"y":{"datum":28539,"type":"quantitative","scale":{"domain":[-6000,40000],"nice":false,"zero":false},"axis":null}}},
{"data":{"values":[{}]},"mark":{"type":"text","align":"left","baseline":"alphabetic","font":"Liberation Sans","fontWeight":"bold","fontSize":18.5,"color":"black","text":"= 1.53,"},
 "encoding":{"x":{"datum":73.35,"type":"quantitative","scale":{"domain":[7,91.82],"nice":false,"zero":false},"axis":null},"y":{"datum":28874,"type":"quantitative","scale":{"domain":[-6000,40000],"nice":false,"zero":false},"axis":null}}},
{"data":{"values":[{}]},"mark":{"type":"text","align":"left","baseline":"alphabetic","font":"Liberation Sans","fontWeight":"bold","fontSize":18.5,"color":"black","text":"GOF = 1.99"},
 "encoding":{"x":{"datum":80.73,"type":"quantitative","scale":{"domain":[7,91.82],"nice":false,"zero":false},"axis":null},"y":{"datum":28874,"type":"quantitative","scale":{"domain":[-6000,40000],"nice":false,"zero":false},"axis":null}}}
]
}
